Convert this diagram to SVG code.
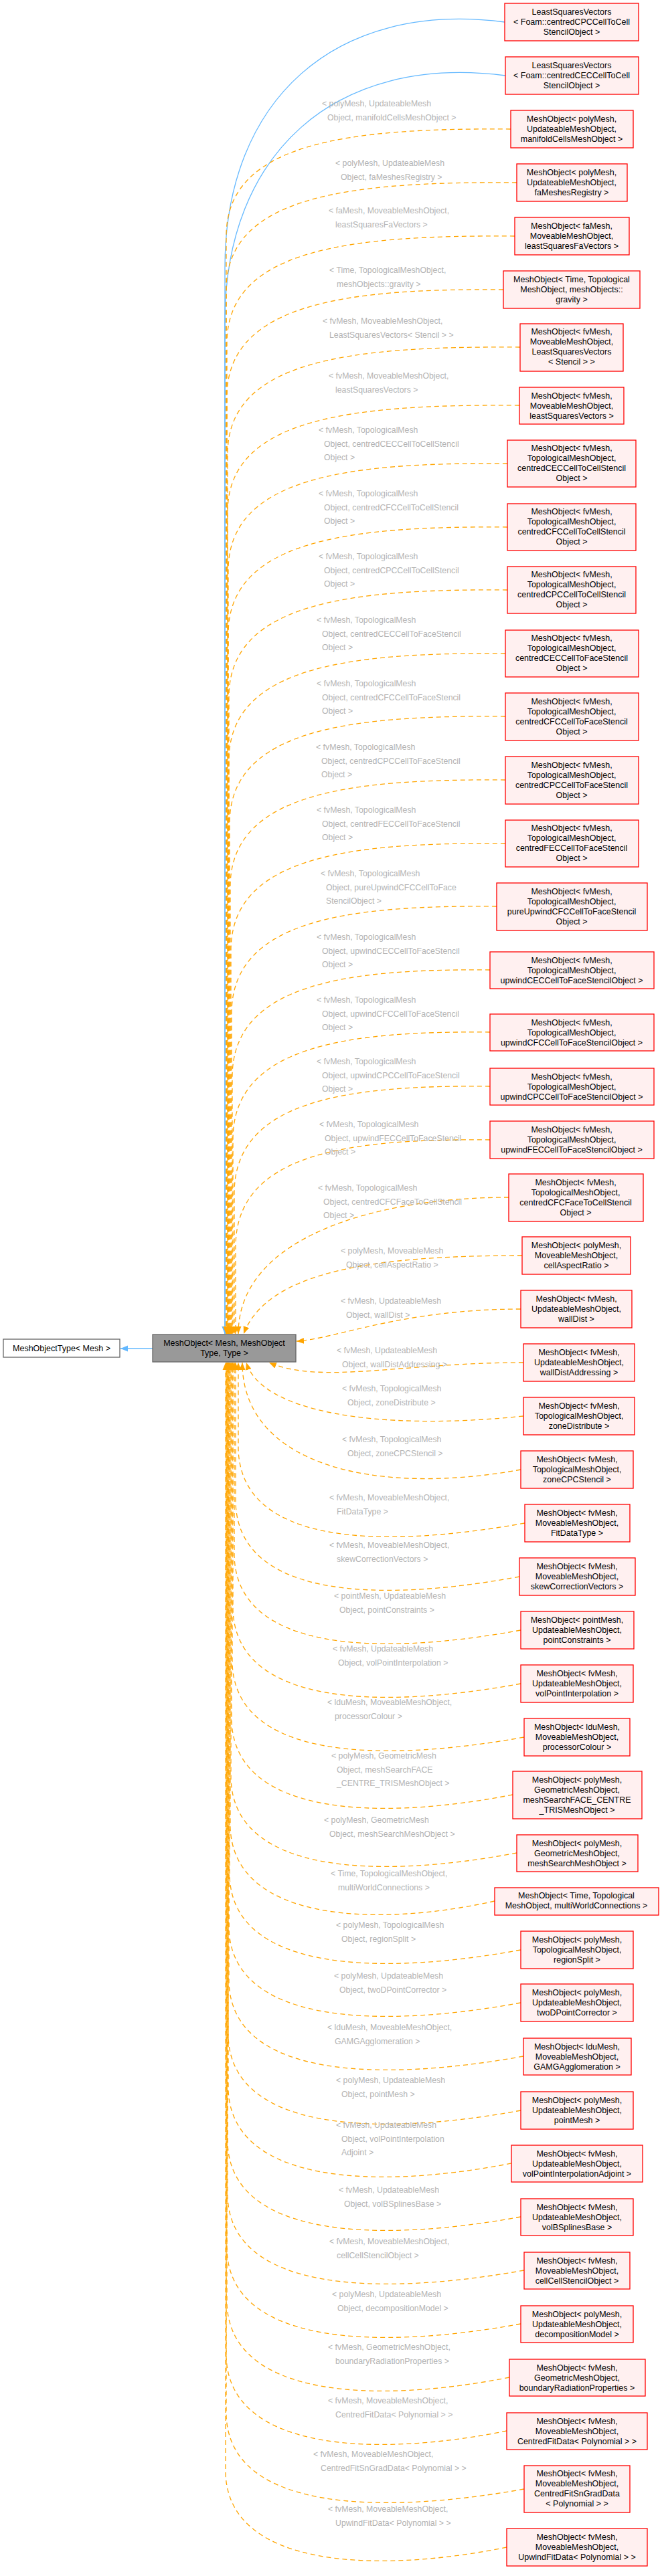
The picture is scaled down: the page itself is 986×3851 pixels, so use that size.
<svg xmlns="http://www.w3.org/2000/svg" width="986" height="3851" viewBox="0 0 986 3851">
<style>
text{font-family:"Liberation Sans",Arial,sans-serif;font-size:12.5px}
.n rect{fill:#fff0f0;stroke:#ff0000;stroke-width:1.3}
.n text{fill:#000;text-anchor:middle}
.lb text{fill:#b3b3b3;font-size:12.3px}
.e{fill:none;stroke:#ffa500;stroke-width:1.3;stroke-dasharray:7,5;marker-end:url(#ao)}
.b{fill:none;stroke:#63b8ff;stroke-width:1.3;marker-end:url(#ab)}
</style>
<defs>
<marker id="ao" markerUnits="userSpaceOnUse" markerWidth="12" markerHeight="10" refX="11" refY="5" orient="auto"><path d="M0,0.5 L11,5 L0,9.5 z" fill="#ffa500"/></marker>
<marker id="ab" markerUnits="userSpaceOnUse" markerWidth="12" markerHeight="10" refX="11" refY="5" orient="auto"><path d="M0,0.5 L11,5 L0,9.5 z" fill="#63b8ff"/></marker>
</defs>
<rect width="986" height="3851" fill="#fff"/>
<g id="connectors">
<path class="b" d="M754 33 C500 0,336 150,336 400 L336 1994"/>
<path class="b" d="M755 113 C500 80,336 230,336 480 L336 1994"/>
<path class="b" d="M228 2016 L180 2016"/>
<path class="e" d="M763 193 C520 191,338 213,338 353 L338 1994"/>
<path class="e" d="M772 273 C520 271,338 293,338 433 L338 1994"/>
<path class="e" d="M769 353 C520 351,339 373,339 513 L339 1994"/>
<path class="e" d="M752 433 C520 431,339 453,339 593 L339 1994"/>
<path class="e" d="M777 519 C520 517,340 539,340 679 L340 1994"/>
<path class="e" d="M776 606 C520 604,340 626,340 766 L340 1994"/>
<path class="e" d="M758 693 C520 691,341 713,341 853 L341 1994"/>
<path class="e" d="M758 788 C520 786,341 808,341 948 L341 1994"/>
<path class="e" d="M758 882 C520 880,342 902,342 1042 L342 1994"/>
<path class="e" d="M755 977 C520 975,342 997,342 1137 L342 1994"/>
<path class="e" d="M755 1071 C520 1069,343 1091,343 1231 L343 1994"/>
<path class="e" d="M755 1166 C520 1164,344 1186,344 1326 L344 1994"/>
<path class="e" d="M755 1261 C520 1259,345 1281,345 1421 L345 1994"/>
<path class="e" d="M742 1355 C520 1353,346 1375,346 1515 L346 1994"/>
<path class="e" d="M732 1450 C520 1448,347 1470,347 1610 L347 1994"/>
<path class="e" d="M732 1543 C520 1541,348 1563,348 1703 L348 1994"/>
<path class="e" d="M732 1624 C520 1622,350 1644,350 1784 L350 1994"/>
<path class="e" d="M732 1704 C520 1702,352 1724,352 1864 L352 1994"/>
<path class="e" d="M760 1790 C560 1790,356 1850,356 1994"/>
<path class="e" d="M780 1877 C560 1877,400 1900,364 1994"/>
<path class="e" d="M778 1957 C600 1957,500 2002,443 2005"/>
<path class="e" d="M782 2037 C600 2037,480 2070,402 2037"/>
<path class="e" d="M782 2117 C560 2140,390 2110,368 2037"/>
<path class="e" d="M778 2197 C560 2237,362 2190,362 2037"/>
<path class="e" d="M784 2277 C560 2317,361 2307,356 2167 L356 2037"/>
<path class="e" d="M776 2357 C560 2397,357 2387,352 2247 L352 2037"/>
<path class="e" d="M778 2437 C560 2477,355 2467,350 2327 L350 2037"/>
<path class="e" d="M778 2517 C560 2557,353 2547,348 2407 L348 2037"/>
<path class="e" d="M783 2597 C560 2637,352 2627,347 2487 L347 2037"/>
<path class="e" d="M766 2683 C560 2723,351 2713,346 2573 L346 2037"/>
<path class="e" d="M772 2770 C560 2810,350 2800,345 2660 L345 2037"/>
<path class="e" d="M739 2842 C560 2882,349 2872,344 2732 L344 2037"/>
<path class="e" d="M778 2915 C560 2955,348 2945,343 2805 L343 2037"/>
<path class="e" d="M778 2994 C560 3034,347 3024,342 2884 L342 2037"/>
<path class="e" d="M782 3074 C560 3114,347 3104,342 2964 L342 2037"/>
<path class="e" d="M778 3155 C560 3195,346 3185,341 3045 L341 2037"/>
<path class="e" d="M764 3234 C560 3274,346 3264,341 3124 L341 2037"/>
<path class="e" d="M778 3314 C560 3354,345 3344,340 3204 L340 2037"/>
<path class="e" d="M783 3394 C560 3434,345 3424,340 3284 L340 2037"/>
<path class="e" d="M778 3474 C560 3514,344 3504,339 3364 L339 2037"/>
<path class="e" d="M761 3554 C560 3594,344 3584,339 3444 L339 2037"/>
<path class="e" d="M757 3634 C560 3674,343 3664,338 3524 L338 2037"/>
<path class="e" d="M783 3721 C560 3761,343 3751,338 3611 L338 2037"/>
<path class="e" d="M757 3808 C560 3848,342 3838,337 3698 L337 2037"/>
</g>
<g class="lb">
<text x="481" y="159">&lt; polyMesh, UpdateableMesh<tspan x="489" dy="20.5">Object, manifoldCellsMeshObject &gt;</tspan></text>
<text x="501" y="248">&lt; polyMesh, UpdateableMesh<tspan x="509" dy="20.5">Object, faMeshesRegistry &gt;</tspan></text>
<text x="491" y="319">&lt; faMesh, MoveableMeshObject,<tspan x="501" dy="20.5">leastSquaresFaVectors &gt;</tspan></text>
<text x="492" y="408">&lt; Time, TopologicalMeshObject,<tspan x="503" dy="20.5">meshObjects::gravity &gt;</tspan></text>
<text x="482" y="484">&lt; fvMesh, MoveableMeshObject,<tspan x="492" dy="20.5">LeastSquaresVectors&lt; Stencil &gt; &gt;</tspan></text>
<text x="491" y="566">&lt; fvMesh, MoveableMeshObject,<tspan x="501" dy="20.5">leastSquaresVectors &gt;</tspan></text>
<text x="476" y="647">&lt; fvMesh, TopologicalMesh<tspan x="484" dy="20.5">Object, centredCECCellToCellStencil</tspan><tspan x="484" dy="20.5">Object &gt;</tspan></text>
<text x="476" y="742">&lt; fvMesh, TopologicalMesh<tspan x="484" dy="20.5">Object, centredCFCCellToCellStencil</tspan><tspan x="484" dy="20.5">Object &gt;</tspan></text>
<text x="476" y="836">&lt; fvMesh, TopologicalMesh<tspan x="484" dy="20.5">Object, centredCPCCellToCellStencil</tspan><tspan x="484" dy="20.5">Object &gt;</tspan></text>
<text x="473" y="931">&lt; fvMesh, TopologicalMesh<tspan x="481" dy="20.5">Object, centredCECCellToFaceStencil</tspan><tspan x="481" dy="20.5">Object &gt;</tspan></text>
<text x="473" y="1026">&lt; fvMesh, TopologicalMesh<tspan x="481" dy="20.5">Object, centredCFCCellToFaceStencil</tspan><tspan x="481" dy="20.5">Object &gt;</tspan></text>
<text x="472" y="1121">&lt; fvMesh, TopologicalMesh<tspan x="480" dy="20.5">Object, centredCPCCellToFaceStencil</tspan><tspan x="480" dy="20.5">Object &gt;</tspan></text>
<text x="473" y="1215">&lt; fvMesh, TopologicalMesh<tspan x="481" dy="20.5">Object, centredFECCellToFaceStencil</tspan><tspan x="481" dy="20.5">Object &gt;</tspan></text>
<text x="479" y="1310">&lt; fvMesh, TopologicalMesh<tspan x="487" dy="20.5">Object, pureUpwindCFCCellToFace</tspan><tspan x="487" dy="20.5">StencilObject &gt;</tspan></text>
<text x="473" y="1405">&lt; fvMesh, TopologicalMesh<tspan x="481" dy="20.5">Object, upwindCECCellToFaceStencil</tspan><tspan x="481" dy="20.5">Object &gt;</tspan></text>
<text x="473" y="1499">&lt; fvMesh, TopologicalMesh<tspan x="481" dy="20.5">Object, upwindCFCCellToFaceStencil</tspan><tspan x="481" dy="20.5">Object &gt;</tspan></text>
<text x="473" y="1591">&lt; fvMesh, TopologicalMesh<tspan x="481" dy="20.5">Object, upwindCPCCellToFaceStencil</tspan><tspan x="481" dy="20.5">Object &gt;</tspan></text>
<text x="477" y="1685">&lt; fvMesh, TopologicalMesh<tspan x="485" dy="20.5">Object, upwindFECCellToFaceStencil</tspan><tspan x="485" dy="20.5">Object &gt;</tspan></text>
<text x="475" y="1780">&lt; fvMesh, TopologicalMesh<tspan x="483" dy="20.5">Object, centredCFCFaceToCellStencil</tspan><tspan x="483" dy="20.5">Object &gt;</tspan></text>
<text x="509" y="1874">&lt; polyMesh, MoveableMesh<tspan x="517" dy="20.5">Object, cellAspectRatio &gt;</tspan></text>
<text x="509" y="1949">&lt; fvMesh, UpdateableMesh<tspan x="517" dy="20.5">Object, wallDist &gt;</tspan></text>
<text x="503" y="2023">&lt; fvMesh, UpdateableMesh<tspan x="511" dy="20.5">Object, wallDistAddressing &gt;</tspan></text>
<text x="511" y="2080">&lt; fvMesh, TopologicalMesh<tspan x="519" dy="20.5">Object, zoneDistribute &gt;</tspan></text>
<text x="511" y="2156">&lt; fvMesh, TopologicalMesh<tspan x="519" dy="20.5">Object, zoneCPCStencil &gt;</tspan></text>
<text x="492" y="2243">&lt; fvMesh, MoveableMeshObject,<tspan x="503" dy="20.5">FitDataType &gt;</tspan></text>
<text x="492" y="2314">&lt; fvMesh, MoveableMeshObject,<tspan x="503" dy="20.5">skewCorrectionVectors &gt;</tspan></text>
<text x="499" y="2390">&lt; pointMesh, UpdateableMesh<tspan x="507" dy="20.5">Object, pointConstraints &gt;</tspan></text>
<text x="497" y="2469">&lt; fvMesh, UpdateableMesh<tspan x="505" dy="20.5">Object, volPointInterpolation &gt;</tspan></text>
<text x="489" y="2549">&lt; lduMesh, MoveableMeshObject,<tspan x="500" dy="20.5">processorColour &gt;</tspan></text>
<text x="495" y="2629">&lt; polyMesh, GeometricMesh<tspan x="503" dy="20.5">Object, meshSearchFACE</tspan><tspan x="503" dy="20.5">_CENTRE_TRISMeshObject &gt;</tspan></text>
<text x="484" y="2725">&lt; polyMesh, GeometricMesh<tspan x="492" dy="20.5">Object, meshSearchMeshObject &gt;</tspan></text>
<text x="494" y="2805">&lt; Time, TopologicalMeshObject,<tspan x="505" dy="20.5">multiWorldConnections &gt;</tspan></text>
<text x="502" y="2882">&lt; polyMesh, TopologicalMesh<tspan x="510" dy="20.5">Object, regionSplit &gt;</tspan></text>
<text x="499" y="2958">&lt; polyMesh, UpdateableMesh<tspan x="507" dy="20.5">Object, twoDPointCorrector &gt;</tspan></text>
<text x="489" y="3035">&lt; lduMesh, MoveableMeshObject,<tspan x="500" dy="20.5">GAMGAgglomeration &gt;</tspan></text>
<text x="502" y="3114">&lt; polyMesh, UpdateableMesh<tspan x="510" dy="20.5">Object, pointMesh &gt;</tspan></text>
<text x="502" y="3181">&lt; fvMesh, UpdateableMesh<tspan x="510" dy="20.5">Object, volPointInterpolation</tspan><tspan x="510" dy="20.5">Adjoint &gt;</tspan></text>
<text x="506" y="3278">&lt; fvMesh, UpdateableMesh<tspan x="514" dy="20.5">Object, volBSplinesBase &gt;</tspan></text>
<text x="492" y="3355">&lt; fvMesh, MoveableMeshObject,<tspan x="503" dy="20.5">cellCellStencilObject &gt;</tspan></text>
<text x="496" y="3434">&lt; polyMesh, UpdateableMesh<tspan x="504" dy="20.5">Object, decompositionModel &gt;</tspan></text>
<text x="490" y="3513">&lt; fvMesh, GeometricMeshObject,<tspan x="501" dy="20.5">boundaryRadiationProperties &gt;</tspan></text>
<text x="490" y="3593">&lt; fvMesh, MoveableMeshObject,<tspan x="501" dy="20.5">CentredFitData&lt; Polynomial &gt; &gt;</tspan></text>
<text x="468" y="3673">&lt; fvMesh, MoveableMeshObject,<tspan x="479" dy="20.5">CentredFitSnGradData&lt; Polynomial &gt; &gt;</tspan></text>
<text x="490" y="3755">&lt; fvMesh, MoveableMeshObject,<tspan x="501" dy="20.5">UpwindFitData&lt; Polynomial &gt; &gt;</tspan></text>
</g>
<g id="base"><rect x="5" y="2002" width="174" height="27" fill="#fff" stroke="#666" stroke-width="1.3"/><text x="92" y="2020" text-anchor="middle">MeshObjectType&lt; Mesh &gt;</text></g>
<g id="center"><rect x="228" y="1995" width="214" height="41" fill="#999" stroke="#666" stroke-width="1.3"/><text x="335" y="2012" text-anchor="middle">MeshObject&lt; Mesh, MeshObject<tspan x="335" dy="15">Type, Type &gt;</tspan></text></g>
<g id="n1" class="n"><rect x="754" y="5" width="200" height="56"/><text y="22"><tspan x="854">LeastSquaresVectors</tspan><tspan x="854" dy="15">&lt; Foam::centredCPCCellToCell</tspan><tspan x="854" dy="15">StencilObject &gt;</tspan></text></g>
<g id="n2" class="n"><rect x="755" y="85" width="199" height="56"/><text y="102"><tspan x="854">LeastSquaresVectors</tspan><tspan x="854" dy="15">&lt; Foam::centredCECCellToCell</tspan><tspan x="854" dy="15">StencilObject &gt;</tspan></text></g>
<g id="n3" class="n"><rect x="763" y="165" width="183" height="56"/><text y="182"><tspan x="854">MeshObject&lt; polyMesh,</tspan><tspan x="854" dy="15">UpdateableMeshObject,</tspan><tspan x="854" dy="15">manifoldCellsMeshObject &gt;</tspan></text></g>
<g id="n4" class="n"><rect x="772" y="245" width="165" height="56"/><text y="262"><tspan x="854">MeshObject&lt; polyMesh,</tspan><tspan x="854" dy="15">UpdateableMeshObject,</tspan><tspan x="854" dy="15">faMeshesRegistry &gt;</tspan></text></g>
<g id="n5" class="n"><rect x="769" y="325" width="171" height="56"/><text y="342"><tspan x="854">MeshObject&lt; faMesh,</tspan><tspan x="854" dy="15">MoveableMeshObject,</tspan><tspan x="854" dy="15">leastSquaresFaVectors &gt;</tspan></text></g>
<g id="n6" class="n"><rect x="752" y="405" width="204" height="56"/><text y="422"><tspan x="854">MeshObject&lt; Time, Topological</tspan><tspan x="854" dy="15">MeshObject, meshObjects::</tspan><tspan x="854" dy="15">gravity &gt;</tspan></text></g>
<g id="n7" class="n"><rect x="777" y="484" width="154" height="71"/><text y="500"><tspan x="854">MeshObject&lt; fvMesh,</tspan><tspan x="854" dy="15">MoveableMeshObject,</tspan><tspan x="854" dy="15">LeastSquaresVectors</tspan><tspan x="854" dy="15">&lt; Stencil &gt; &gt;</tspan></text></g>
<g id="n8" class="n"><rect x="776" y="579" width="156" height="55"/><text y="596"><tspan x="854">MeshObject&lt; fvMesh,</tspan><tspan x="854" dy="15">MoveableMeshObject,</tspan><tspan x="854" dy="15">leastSquaresVectors &gt;</tspan></text></g>
<g id="n9" class="n"><rect x="758" y="658" width="192" height="70"/><text y="674"><tspan x="854">MeshObject&lt; fvMesh,</tspan><tspan x="854" dy="15">TopologicalMeshObject,</tspan><tspan x="854" dy="15">centredCECCellToCellStencil</tspan><tspan x="854" dy="15">Object &gt;</tspan></text></g>
<g id="n10" class="n"><rect x="758" y="753" width="192" height="70"/><text y="769"><tspan x="854">MeshObject&lt; fvMesh,</tspan><tspan x="854" dy="15">TopologicalMeshObject,</tspan><tspan x="854" dy="15">centredCFCCellToCellStencil</tspan><tspan x="854" dy="15">Object &gt;</tspan></text></g>
<g id="n11" class="n"><rect x="758" y="847" width="192" height="70"/><text y="863"><tspan x="854">MeshObject&lt; fvMesh,</tspan><tspan x="854" dy="15">TopologicalMeshObject,</tspan><tspan x="854" dy="15">centredCPCCellToCellStencil</tspan><tspan x="854" dy="15">Object &gt;</tspan></text></g>
<g id="n12" class="n"><rect x="755" y="942" width="199" height="70"/><text y="958"><tspan x="854">MeshObject&lt; fvMesh,</tspan><tspan x="854" dy="15">TopologicalMeshObject,</tspan><tspan x="854" dy="15">centredCECCellToFaceStencil</tspan><tspan x="854" dy="15">Object &gt;</tspan></text></g>
<g id="n13" class="n"><rect x="755" y="1036" width="199" height="71"/><text y="1053"><tspan x="854">MeshObject&lt; fvMesh,</tspan><tspan x="854" dy="15">TopologicalMeshObject,</tspan><tspan x="854" dy="15">centredCFCCellToFaceStencil</tspan><tspan x="854" dy="15">Object &gt;</tspan></text></g>
<g id="n14" class="n"><rect x="755" y="1131" width="199" height="71"/><text y="1148"><tspan x="854">MeshObject&lt; fvMesh,</tspan><tspan x="854" dy="15">TopologicalMeshObject,</tspan><tspan x="854" dy="15">centredCPCCellToFaceStencil</tspan><tspan x="854" dy="15">Object &gt;</tspan></text></g>
<g id="n15" class="n"><rect x="755" y="1226" width="199" height="70"/><text y="1242"><tspan x="854">MeshObject&lt; fvMesh,</tspan><tspan x="854" dy="15">TopologicalMeshObject,</tspan><tspan x="854" dy="15">centredFECCellToFaceStencil</tspan><tspan x="854" dy="15">Object &gt;</tspan></text></g>
<g id="n16" class="n"><rect x="742" y="1320" width="225" height="71"/><text y="1337"><tspan x="854">MeshObject&lt; fvMesh,</tspan><tspan x="854" dy="15">TopologicalMeshObject,</tspan><tspan x="854" dy="15">pureUpwindCFCCellToFaceStencil</tspan><tspan x="854" dy="15">Object &gt;</tspan></text></g>
<g id="n17" class="n"><rect x="732" y="1423" width="245" height="55"/><text y="1440"><tspan x="854">MeshObject&lt; fvMesh,</tspan><tspan x="854" dy="15">TopologicalMeshObject,</tspan><tspan x="854" dy="15">upwindCECCellToFaceStencilObject &gt;</tspan></text></g>
<g id="n18" class="n"><rect x="732" y="1516" width="245" height="55"/><text y="1533"><tspan x="854">MeshObject&lt; fvMesh,</tspan><tspan x="854" dy="15">TopologicalMeshObject,</tspan><tspan x="854" dy="15">upwindCFCCellToFaceStencilObject &gt;</tspan></text></g>
<g id="n19" class="n"><rect x="732" y="1597" width="245" height="55"/><text y="1614"><tspan x="854">MeshObject&lt; fvMesh,</tspan><tspan x="854" dy="15">TopologicalMeshObject,</tspan><tspan x="854" dy="15">upwindCPCCellToFaceStencilObject &gt;</tspan></text></g>
<g id="n20" class="n"><rect x="732" y="1676" width="245" height="56"/><text y="1693"><tspan x="854">MeshObject&lt; fvMesh,</tspan><tspan x="854" dy="15">TopologicalMeshObject,</tspan><tspan x="854" dy="15">upwindFECCellToFaceStencilObject &gt;</tspan></text></g>
<g id="n21" class="n"><rect x="760" y="1755" width="201" height="71"/><text y="1772"><tspan x="860">MeshObject&lt; fvMesh,</tspan><tspan x="860" dy="15">TopologicalMeshObject,</tspan><tspan x="860" dy="15">centredCFCFaceToCellStencil</tspan><tspan x="860" dy="15">Object &gt;</tspan></text></g>
<g id="n22" class="n"><rect x="780" y="1849" width="162" height="56"/><text y="1866"><tspan x="861">MeshObject&lt; polyMesh,</tspan><tspan x="861" dy="15">MoveableMeshObject,</tspan><tspan x="861" dy="15">cellAspectRatio &gt;</tspan></text></g>
<g id="n23" class="n"><rect x="778" y="1929" width="166" height="56"/><text y="1946"><tspan x="861">MeshObject&lt; fvMesh,</tspan><tspan x="861" dy="15">UpdateableMeshObject,</tspan><tspan x="861" dy="15">wallDist &gt;</tspan></text></g>
<g id="n24" class="n"><rect x="782" y="2009" width="166" height="56"/><text y="2026"><tspan x="865">MeshObject&lt; fvMesh,</tspan><tspan x="865" dy="15">UpdateableMeshObject,</tspan><tspan x="865" dy="15">wallDistAddressing &gt;</tspan></text></g>
<g id="n25" class="n"><rect x="782" y="2089" width="166" height="56"/><text y="2106"><tspan x="865">MeshObject&lt; fvMesh,</tspan><tspan x="865" dy="15">TopologicalMeshObject,</tspan><tspan x="865" dy="15">zoneDistribute &gt;</tspan></text></g>
<g id="n26" class="n"><rect x="778" y="2169" width="168" height="56"/><text y="2186"><tspan x="862">MeshObject&lt; fvMesh,</tspan><tspan x="862" dy="15">TopologicalMeshObject,</tspan><tspan x="862" dy="15">zoneCPCStencil &gt;</tspan></text></g>
<g id="n27" class="n"><rect x="784" y="2249" width="157" height="56"/><text y="2266"><tspan x="862">MeshObject&lt; fvMesh,</tspan><tspan x="862" dy="15">MoveableMeshObject,</tspan><tspan x="862" dy="15">FitDataType &gt;</tspan></text></g>
<g id="n28" class="n"><rect x="776" y="2329" width="173" height="56"/><text y="2346"><tspan x="862">MeshObject&lt; fvMesh,</tspan><tspan x="862" dy="15">MoveableMeshObject,</tspan><tspan x="862" dy="15">skewCorrectionVectors &gt;</tspan></text></g>
<g id="n29" class="n"><rect x="778" y="2409" width="169" height="56"/><text y="2426"><tspan x="862">MeshObject&lt; pointMesh,</tspan><tspan x="862" dy="15">UpdateableMeshObject,</tspan><tspan x="862" dy="15">pointConstraints &gt;</tspan></text></g>
<g id="n30" class="n"><rect x="778" y="2489" width="168" height="56"/><text y="2506"><tspan x="862">MeshObject&lt; fvMesh,</tspan><tspan x="862" dy="15">UpdateableMeshObject,</tspan><tspan x="862" dy="15">volPointInterpolation &gt;</tspan></text></g>
<g id="n31" class="n"><rect x="783" y="2569" width="158" height="56"/><text y="2586"><tspan x="862">MeshObject&lt; lduMesh,</tspan><tspan x="862" dy="15">MoveableMeshObject,</tspan><tspan x="862" dy="15">processorColour &gt;</tspan></text></g>
<g id="n32" class="n"><rect x="766" y="2648" width="193" height="71"/><text y="2665"><tspan x="862">MeshObject&lt; polyMesh,</tspan><tspan x="862" dy="15">GeometricMeshObject,</tspan><tspan x="862" dy="15">meshSearchFACE_CENTRE</tspan><tspan x="862" dy="15">_TRISMeshObject &gt;</tspan></text></g>
<g id="n33" class="n"><rect x="772" y="2743" width="181" height="55"/><text y="2760"><tspan x="862">MeshObject&lt; polyMesh,</tspan><tspan x="862" dy="15">GeometricMeshObject,</tspan><tspan x="862" dy="15">meshSearchMeshObject &gt;</tspan></text></g>
<g id="n34" class="n"><rect x="739" y="2822" width="245" height="41"/><text y="2838"><tspan x="861">MeshObject&lt; Time, Topological</tspan><tspan x="861" dy="15">MeshObject, multiWorldConnections &gt;</tspan></text></g>
<g id="n35" class="n"><rect x="778" y="2887" width="168" height="56"/><text y="2904"><tspan x="862">MeshObject&lt; polyMesh,</tspan><tspan x="862" dy="15">TopologicalMeshObject,</tspan><tspan x="862" dy="15">regionSplit &gt;</tspan></text></g>
<g id="n36" class="n"><rect x="778" y="2966" width="168" height="56"/><text y="2983"><tspan x="862">MeshObject&lt; polyMesh,</tspan><tspan x="862" dy="15">UpdateableMeshObject,</tspan><tspan x="862" dy="15">twoDPointCorrector &gt;</tspan></text></g>
<g id="n37" class="n"><rect x="782" y="3047" width="161" height="55"/><text y="3064"><tspan x="862">MeshObject&lt; lduMesh,</tspan><tspan x="862" dy="15">MoveableMeshObject,</tspan><tspan x="862" dy="15">GAMGAgglomeration &gt;</tspan></text></g>
<g id="n38" class="n"><rect x="778" y="3127" width="168" height="56"/><text y="3144"><tspan x="862">MeshObject&lt; polyMesh,</tspan><tspan x="862" dy="15">UpdateableMeshObject,</tspan><tspan x="862" dy="15">pointMesh &gt;</tspan></text></g>
<g id="n39" class="n"><rect x="764" y="3207" width="196" height="55"/><text y="3224"><tspan x="862">MeshObject&lt; fvMesh,</tspan><tspan x="862" dy="15">UpdateableMeshObject,</tspan><tspan x="862" dy="15">volPointInterpolationAdjoint &gt;</tspan></text></g>
<g id="n40" class="n"><rect x="778" y="3287" width="168" height="55"/><text y="3304"><tspan x="862">MeshObject&lt; fvMesh,</tspan><tspan x="862" dy="15">UpdateableMeshObject,</tspan><tspan x="862" dy="15">volBSplinesBase &gt;</tspan></text></g>
<g id="n41" class="n"><rect x="783" y="3367" width="158" height="55"/><text y="3384"><tspan x="862">MeshObject&lt; fvMesh,</tspan><tspan x="862" dy="15">MoveableMeshObject,</tspan><tspan x="862" dy="15">cellCellStencilObject &gt;</tspan></text></g>
<g id="n42" class="n"><rect x="778" y="3447" width="168" height="55"/><text y="3464"><tspan x="862">MeshObject&lt; polyMesh,</tspan><tspan x="862" dy="15">UpdateableMeshObject,</tspan><tspan x="862" dy="15">decompositionModel &gt;</tspan></text></g>
<g id="n43" class="n"><rect x="761" y="3527" width="203" height="55"/><text y="3544"><tspan x="862">MeshObject&lt; fvMesh,</tspan><tspan x="862" dy="15">GeometricMeshObject,</tspan><tspan x="862" dy="15">boundaryRadiationProperties &gt;</tspan></text></g>
<g id="n44" class="n"><rect x="757" y="3607" width="210" height="55"/><text y="3624"><tspan x="862">MeshObject&lt; fvMesh,</tspan><tspan x="862" dy="15">MoveableMeshObject,</tspan><tspan x="862" dy="15">CentredFitData&lt; Polynomial &gt; &gt;</tspan></text></g>
<g id="n45" class="n"><rect x="783" y="3686" width="158" height="70"/><text y="3702"><tspan x="862">MeshObject&lt; fvMesh,</tspan><tspan x="862" dy="15">MoveableMeshObject,</tspan><tspan x="862" dy="15">CentredFitSnGradData</tspan><tspan x="862" dy="15">&lt; Polynomial &gt; &gt;</tspan></text></g>
<g id="n46" class="n"><rect x="757" y="3780" width="210" height="56"/><text y="3797"><tspan x="862">MeshObject&lt; fvMesh,</tspan><tspan x="862" dy="15">MoveableMeshObject,</tspan><tspan x="862" dy="15">UpwindFitData&lt; Polynomial &gt; &gt;</tspan></text></g>
</svg>
